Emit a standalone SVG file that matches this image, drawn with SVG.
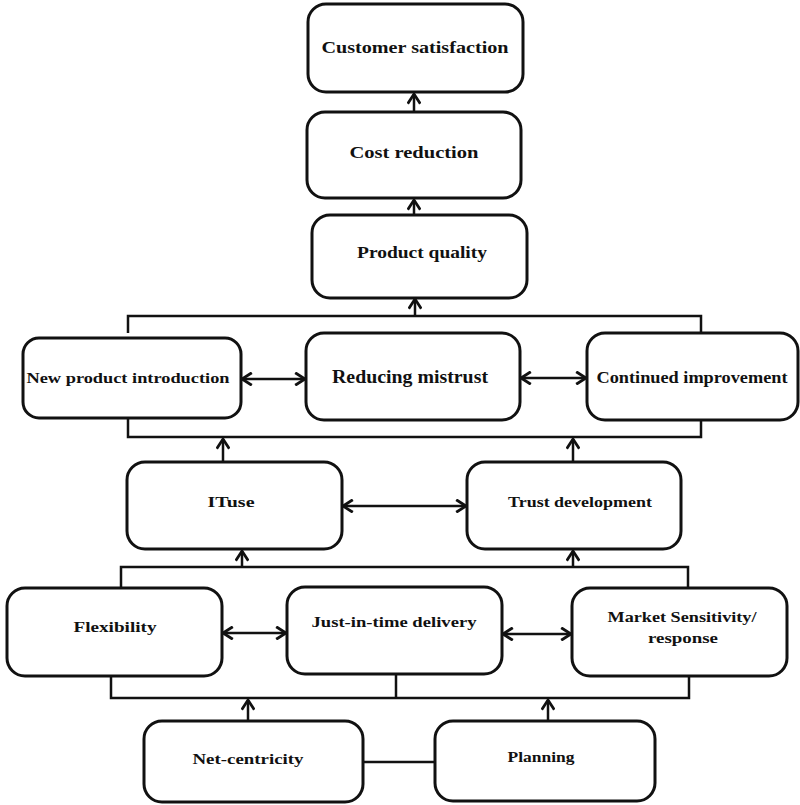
<svg xmlns="http://www.w3.org/2000/svg" width="800" height="805" viewBox="0 0 800 805">
<defs>
<marker id="ah" markerUnits="userSpaceOnUse" markerWidth="14" markerHeight="14" refX="8" refY="5" orient="auto-start-reverse" viewBox="0 0 10 10">
<path d="M1,0.5 L8,5 L1,9.5" fill="none" stroke="#111" stroke-width="2"/>
</marker>
<style>
.box{fill:#fff;stroke:#111;stroke-width:3}
.ln{fill:none;stroke:#111;stroke-width:2.5}
.t{font-family:"Liberation Serif","Times New Roman",serif;font-weight:bold;fill:#111;text-anchor:middle}
</style>
</defs>
<rect width="800" height="805" fill="#fff"/>
<g id="connectors">
<line class="ln" x1="414" y1="112" x2="414" y2="94" marker-end="url(#ah)"/>
<line class="ln" x1="414" y1="215" x2="414" y2="200" marker-end="url(#ah)"/>
<polyline class="ln" points="128,333 128,316 701,316 701,333"/>
<line class="ln" x1="415" y1="316" x2="415" y2="299" marker-end="url(#ah)"/>
<polyline class="ln" points="128,418 128,437 701,437 701,420"/>
<line class="ln" x1="242" y1="379" x2="305" y2="379" marker-start="url(#ah)" marker-end="url(#ah)"/>
<line class="ln" x1="521" y1="378" x2="586" y2="378" marker-start="url(#ah)" marker-end="url(#ah)"/>
<line class="ln" x1="223" y1="462" x2="223" y2="439" marker-end="url(#ah)"/>
<line class="ln" x1="573" y1="462" x2="573" y2="439" marker-end="url(#ah)"/>
<line class="ln" x1="343" y1="506" x2="466" y2="506" marker-start="url(#ah)" marker-end="url(#ah)"/>
<polyline class="ln" points="121,588 121,567 688,567 688,588"/>
<line class="ln" x1="242" y1="567" x2="242" y2="551" marker-end="url(#ah)"/>
<line class="ln" x1="573" y1="567" x2="573" y2="551" marker-end="url(#ah)"/>
<line class="ln" x1="223" y1="633" x2="286" y2="633" marker-start="url(#ah)" marker-end="url(#ah)"/>
<line class="ln" x1="503" y1="634" x2="571" y2="634" marker-start="url(#ah)" marker-end="url(#ah)"/>
<polyline class="ln" points="111,676 111,698 689,698 689,676"/>
<line class="ln" x1="396" y1="674" x2="396" y2="698"/>
<line class="ln" x1="248" y1="721" x2="248" y2="700" marker-end="url(#ah)"/>
<line class="ln" x1="548" y1="721" x2="548" y2="700" marker-end="url(#ah)"/>
<line class="ln" x1="363" y1="762" x2="435" y2="762"/>
</g>
<g id="customer-satisfaction">
<rect class="box" x="308" y="4" width="215" height="88" rx="18"/>
<text class="t" x="415" y="53" font-size="17" textLength="187" lengthAdjust="spacingAndGlyphs">Customer satisfaction</text>
</g>
<g id="cost-reduction">
<rect class="box" x="307" y="112" width="214" height="86" rx="18"/>
<text class="t" x="414" y="158" font-size="17" textLength="129" lengthAdjust="spacingAndGlyphs">Cost reduction</text>
</g>
<g id="product-quality">
<rect class="box" x="312" y="215" width="215" height="83" rx="18"/>
<text class="t" x="422" y="258" font-size="17" textLength="130" lengthAdjust="spacingAndGlyphs">Product quality</text>
</g>
<g id="new-product-introduction">
<rect class="box" x="23" y="338" width="218" height="80" rx="16"/>
<text class="t" x="128" y="383" font-size="15" textLength="203" lengthAdjust="spacingAndGlyphs">New product introduction</text>
</g>
<g id="reducing-mistrust">
<rect class="box" x="306" y="333" width="214" height="87" rx="18"/>
<text class="t" x="410" y="383" font-size="18" textLength="156" lengthAdjust="spacingAndGlyphs">Reducing mistrust</text>
</g>
<g id="continued-improvement">
<rect class="box" x="587" y="333" width="211" height="87" rx="18"/>
<text class="t" x="692" y="383" font-size="16" textLength="191" lengthAdjust="spacingAndGlyphs">Continued improvement</text>
</g>
<g id="it-use">
<rect class="box" x="127" y="462" width="215" height="87" rx="18"/>
<text class="t" x="231" y="507" font-size="15" textLength="47" lengthAdjust="spacingAndGlyphs">ITuse</text>
</g>
<g id="trust-development">
<rect class="box" x="467" y="462" width="214" height="87" rx="18"/>
<text class="t" x="580" y="507" font-size="15" textLength="144" lengthAdjust="spacingAndGlyphs">Trust development</text>
</g>
<g id="flexibility">
<rect class="box" x="7" y="588" width="215" height="88" rx="18"/>
<text class="t" x="115" y="632" font-size="15" textLength="83" lengthAdjust="spacingAndGlyphs">Flexibility</text>
</g>
<g id="just-in-time-delivery">
<rect class="box" x="287" y="587" width="215" height="87" rx="18"/>
<text class="t" x="394" y="627" font-size="15" textLength="165" lengthAdjust="spacingAndGlyphs">Just-in-time delivery</text>
</g>
<g id="market-sensitivity">
<rect class="box" x="572" y="588" width="215" height="88" rx="18"/>
<text class="t" x="682" y="622" font-size="15" textLength="149" lengthAdjust="spacingAndGlyphs">Market Sensitivity/</text>
<text class="t" x="683" y="643" font-size="15" textLength="70" lengthAdjust="spacingAndGlyphs">response</text>
</g>
<g id="net-centricity">
<rect class="box" x="144" y="721" width="219" height="81" rx="18"/>
<text class="t" x="248" y="764" font-size="15" textLength="111" lengthAdjust="spacingAndGlyphs">Net-centricity</text>
</g>
<g id="planning">
<rect class="box" x="435" y="721" width="220" height="80" rx="18"/>
<text class="t" x="541" y="762" font-size="15" textLength="67" lengthAdjust="spacingAndGlyphs">Planning</text>
</g>
</svg>
